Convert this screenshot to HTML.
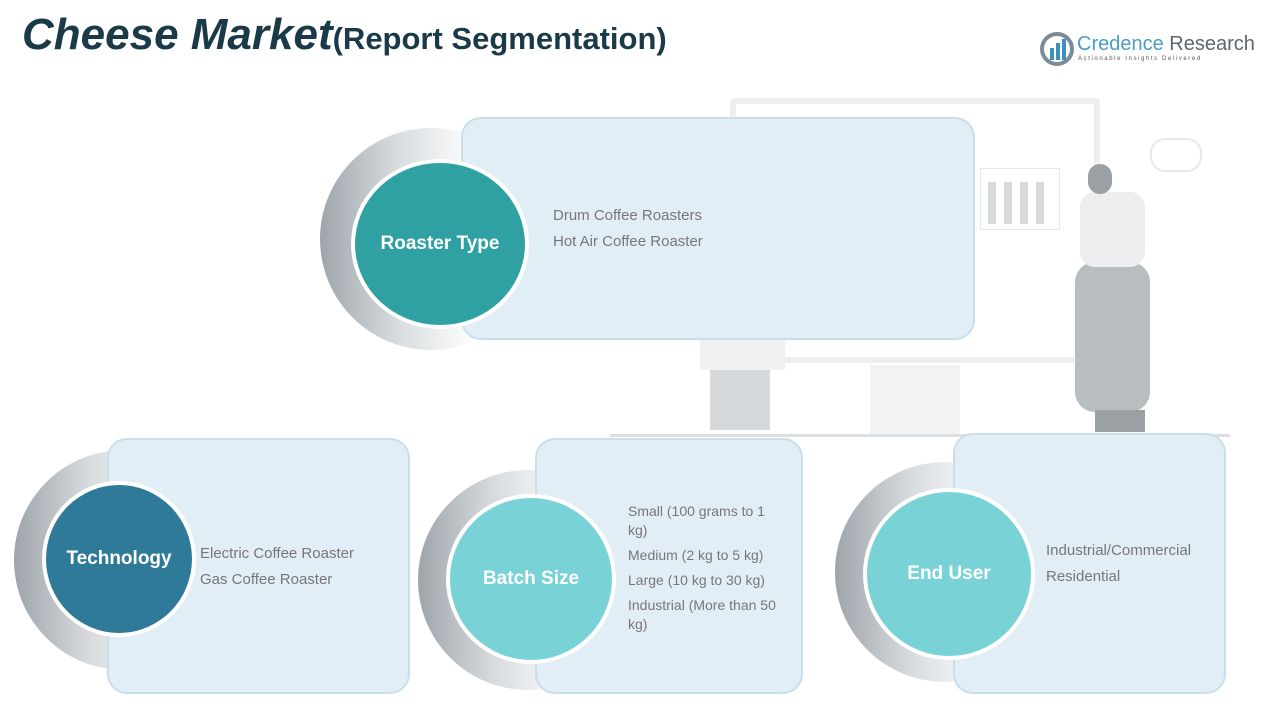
<!DOCTYPE html>
<html><head><meta charset="utf-8"><style>
body{margin:0;width:1280px;height:720px;background:#fff;position:relative;overflow:hidden;font-family:"Liberation Sans",sans-serif}
.a{position:absolute}
.box{position:absolute;background:#e2eef6;border:2px solid #c8deec;border-radius:20px;box-sizing:border-box}
.cr{position:absolute;border-radius:50%;background:linear-gradient(90deg,#9ea5aa 0%,#d8dcdf 35%,#fff 70%)}
.c{position:absolute;border-radius:50%;border:4px solid #fff;box-sizing:border-box;color:#fff;font-weight:bold;font-size:19px;display:flex;align-items:center;justify-content:center}
.t{position:absolute;color:#777;font-size:15px;line-height:26px}
</style></head><body>
<div class="a" style="left:22px;top:10px;font-size:44px;font-weight:bold;font-style:italic;color:#1b3a48">Cheese Market<span style="font-style:normal;font-size:31px">(Report Segmentation)</span></div>
<svg class="a" style="left:1040px;top:32px" width="34" height="34"><circle cx="17" cy="17" r="15" fill="none" stroke="#7b8a96" stroke-width="4"/><rect x="10" y="16" width="4" height="12" fill="#3d8fbf"/><rect x="16" y="11" width="4" height="17" fill="#3d8fbf"/><rect x="22" y="7" width="4" height="21" fill="#3d8fbf"/></svg>
<div class="a" style="left:1077px;top:33px;font-size:20px;color:#4a9cc8">Credence <span style="color:#5b6770">Research</span></div>
<div class="a" style="left:1078px;top:56px;font-size:6px;letter-spacing:1.6px;color:#555">Actionable Insights Delivered</div>
<!-- illustration -->
<div class="a" style="left:730px;top:98px;width:370px;height:265px;border:6px solid #eceeef;box-sizing:border-box;border-radius:4px"></div>
<div class="a" style="left:870px;top:365px;width:90px;height:70px;background:#f1f2f3"></div>
<div class="a" style="left:610px;top:434px;width:620px;height:3px;background:#dcdfe1"></div>
<div class="a" style="left:980px;top:168px;width:78px;height:60px;border:1px solid #e6e6e6"></div>
<div class="a" style="left:988px;top:182px;width:8px;height:42px;background:#d8dbdd"></div>
<div class="a" style="left:1004px;top:182px;width:8px;height:42px;background:#d8dbdd"></div>
<div class="a" style="left:1020px;top:182px;width:8px;height:42px;background:#d8dbdd"></div>
<div class="a" style="left:1036px;top:182px;width:8px;height:42px;background:#d8dbdd"></div>
<div class="a" style="left:1075px;top:262px;width:75px;height:150px;background:#b8bdc0;border-radius:20px"></div>
<div class="a" style="left:1080px;top:192px;width:65px;height:75px;background:#eceeef;border-radius:15px"></div>
<div class="a" style="left:1088px;top:164px;width:24px;height:30px;background:#9aa0a4;border-radius:12px"></div>
<div class="a" style="left:1095px;top:410px;width:50px;height:22px;background:#9aa0a4"></div>
<div class="a" style="left:1150px;top:138px;width:48px;height:30px;border:2px solid #e6e8e9;border-radius:15px"></div>
<div class="a" style="left:700px;top:340px;width:85px;height:30px;background:#f0f1f2"></div>
<div class="a" style="left:710px;top:370px;width:60px;height:60px;background:#d6d9db"></div>
<!-- roaster -->
<div class="cr" style="left:320px;top:128px;width:222px;height:222px"></div>
<div class="box" style="left:461px;top:117px;width:514px;height:223px"></div>
<div class="c" style="left:351px;top:159px;width:178px;height:170px;background:#2fa1a2">Roaster Type</div>
<div class="t" style="left:553px;top:203px">Drum Coffee Roasters<br>Hot Air Coffee Roaster</div>
<!-- technology -->
<div class="cr" style="left:14px;top:450px;width:220px;height:220px"></div>
<div class="box" style="left:107px;top:438px;width:303px;height:256px"></div>
<div class="c" style="left:42px;top:481px;width:154px;height:156px;background:#2f7a98">Technology</div>
<div class="t" style="left:200px;top:541px">Electric Coffee Roaster<br>Gas Coffee Roaster</div>
<!-- batch -->
<div class="cr" style="left:418px;top:470px;width:220px;height:220px"></div>
<div class="box" style="left:535px;top:438px;width:268px;height:256px"></div>
<div class="c" style="left:446px;top:494px;width:170px;height:170px;background:#79d2d6">Batch Size</div>
<div class="t" style="left:628px;top:502px;font-size:14px;width:160px;line-height:19px">Small (100 grams to 1 kg)<div style="height:6px"></div>Medium (2 kg to 5 kg)<div style="height:6px"></div>Large (10 kg to 30 kg)<div style="height:6px"></div>Industrial (More than 50 kg)</div>
<!-- end user -->
<div class="cr" style="left:835px;top:462px;width:220px;height:220px"></div>
<div class="box" style="left:953px;top:433px;width:273px;height:261px"></div>
<div class="c" style="left:863px;top:488px;width:172px;height:172px;background:#79d2d6">End User</div>
<div class="t" style="left:1046px;top:538px">Industrial/Commercial<br>Residential</div>
</body></html>
